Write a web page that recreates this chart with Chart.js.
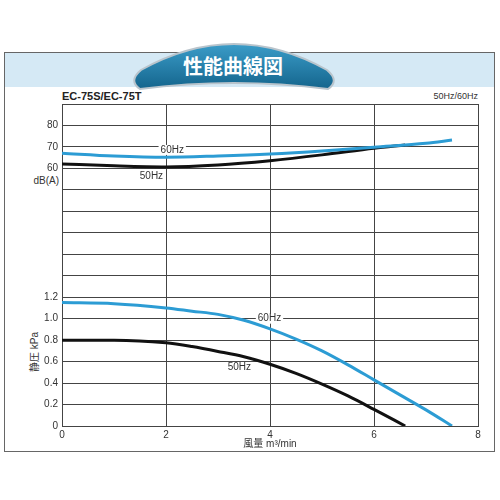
<!DOCTYPE html>
<html>
<head>
<meta charset="utf-8">
<script src="https://cdn.jsdelivr.net/npm/chart.js@4/dist/chart.umd.min.js"></script>
<style>
  body { margin: 0; background: #fff; }
  #wrap { position: relative; width: 500px; height: 500px; font-family: 'Liberation Sans', 'Noto Sans CJK JP', sans-serif; color: #222; }
  #frame { position: absolute; left: 4px; top: 52px; width: 489px; height: 398px; border: 1.5px solid #666; }
  #band { position: absolute; left: 0; top: 0; right: 0; height: 34px; background: #d5e9f5; }
  #banner { position: absolute; left: 0; top: 0; }
  .txt { position: absolute; white-space: nowrap; }
  #model { left: 62px; top: 90px; font-weight: bold; font-size: 11px; }
  #hz { right: 22px; top: 91px; font-size: 9px; color: #333; }
  #dba { right: 441px; top: 175px; font-size: 10px; color: #333; }
  #ytitle { left: 33px; top: 352px; font-size: 10px; color: #333; transform: translate(-50%, -50%) rotate(-90deg); }
  #chart { position: absolute; left: 0; top: 0; }
</style>
</head>
<body>
<div id="wrap">
  <div id="frame"><div id="band"></div></div>
  <svg id="banner" width="500" height="100">
    <defs>
      <linearGradient id="bg" x1="0" y1="0" x2="0" y2="1">
        <stop offset="0" stop-color="#3b9cc8"/>
        <stop offset="1" stop-color="#14658d"/>
      </linearGradient>
    </defs>
    <path d="M140 89 Q128 81 141 70 Q234 18 327 70 Q340 81 328 89 Q234 77 140 89 Z" fill="url(#bg)" stroke="#b9c4cc" stroke-width="2"/>
    <text x="233" y="74" text-anchor="middle" fill="#fff" font-size="20" font-weight="bold" font-family="Noto Sans CJK JP">性能曲線図</text>
  </svg>
  <div class="txt" id="model">EC-75S/EC-75T</div>
  <div class="txt" id="hz">50Hz/60Hz</div>
  <div class="txt" id="dba">dB(A)</div>
  <div class="txt" id="ytitle">静圧 kPa</div>
  <canvas id="chart" width="500" height="500"></canvas>
</div>
<script>
// 風量 m³/min
const flow60 = [0, 1, 2, 2.5, 3, 3.5, 4, 4.5, 5, 5.5, 6, 6.5, 7, 7.5];
const pressure60 = [1.15, 1.14, 1.10, 1.07, 1.04, 0.985, 0.905, 0.81, 0.70, 0.57, 0.43, 0.29, 0.15, 0];
const flow50 = [0, 1, 2, 2.5, 3, 3.5, 4, 4.5, 5, 5.5, 6, 6.6];
const pressure50 = [0.80, 0.80, 0.775, 0.74, 0.695, 0.645, 0.575, 0.49, 0.39, 0.28, 0.155, 0];

// 騒音 dB(A)
const noiseFlow60 = [0, 1, 2, 3, 4, 5, 6, 7, 7.5];
const noise60 = [67.1, 65.8, 65.2, 65.8, 66.7, 68.1, 69.9, 71.7, 73.2];
const noiseFlow50 = [0, 1, 2, 3, 4, 5, 6, 6.6];
const noise50 = [62.1, 61.2, 60.7, 61.6, 63.6, 66.3, 69.4, 70.9];

// 目盛ラベル
const kpaTicks = ['0', '0.2', '0.4', '0.6', '0.8', '1.0', '1.2'];
const dbTicks = ['60', '70', '80'];

const BLUE = '#2c9cd4';
const BLACK = '#111';

const toPts = (xs, ys) => xs.map((x, i) => ({ x: x, y: ys[i] }));

// curve labels, in data units
const curveLabels = [
  { text: '60Hz', x: 2.12, y: 68.6, axis: 'yDb' },
  { text: '50Hz', x: 1.72, y: 56.2, axis: 'yDb' },
  { text: '60Hz', x: 3.99, y: 1.0, axis: 'y' },
  { text: '50Hz', x: 3.41, y: 0.55, axis: 'y' }
];

const labelPlugin = {
  id: 'curveLabels',
  beforeDatasetsDraw(chart) {
    const ctx = chart.ctx;
    ctx.save();
    ctx.font = '10px "Liberation Sans", sans-serif';
    ctx.textAlign = 'center';
    ctx.textBaseline = 'middle';
    curveLabels.forEach(l => {
      const px = chart.scales.x.getPixelForValue(l.x);
      const py = chart.scales[l.axis].getPixelForValue(l.y);
      const w = ctx.measureText(l.text).width;
      ctx.fillStyle = '#fff';
      ctx.fillRect(px - w / 2 - 2, py - 5, w + 4, 10);
      ctx.fillStyle = '#333';
      ctx.fillText(l.text, px, py);
    });
    ctx.restore();
  }
};

const lineStyle = { borderWidth: 3, pointRadius: 0, fill: false, cubicInterpolationMode: 'monotone' };

new Chart(document.getElementById('chart'), {
  type: 'line',
  data: {
    datasets: [
      { ...lineStyle, label: '60Hz', data: toPts(noiseFlow60, noise60), borderColor: BLUE, yAxisID: 'yDb' },
      { ...lineStyle, label: '50Hz', data: toPts(noiseFlow50, noise50), borderColor: BLACK, yAxisID: 'yDb' },
      { ...lineStyle, label: '60Hz', data: toPts(flow60, pressure60), borderColor: BLUE, yAxisID: 'y' },
      { ...lineStyle, label: '50Hz', data: toPts(flow50, pressure50), borderColor: BLACK, yAxisID: 'y' }
    ]
  },
  options: {
    responsive: false,
    animation: false,
    layout: { padding: { left: 0, top: 104, right: 22, bottom: 50 } },
    plugins: { legend: { display: false }, tooltip: { enabled: false } },
    scales: {
      x: {
        type: 'linear', min: 0, max: 8,
        afterFit: s => { s.height = 24; },
        grid: { color: '#444', lineWidth: 1, drawTicks: false },
        border: { color: '#444' },
        ticks: { stepSize: 2, padding: 3, color: '#333', font: { size: 10, family: '"Liberation Sans", sans-serif' } },
        title: { display: true, text: '風量 m³/min', padding: 0, color: '#333', font: { size: 10, family: '"Liberation Sans", "Noto Sans CJK JP", sans-serif' } }
      },
      y: {
        min: 0, max: 3,
        afterFit: s => { s.width = 62; },
        grid: { color: '#444', lineWidth: 1, drawTicks: false },
        border: { color: '#444' },
        ticks: {
          stepSize: 0.2, padding: 4, autoSkip: false, color: '#333',
          font: { size: 10, family: '"Liberation Sans", sans-serif' },
          callback: (v, i) => i < kpaTicks.length ? kpaTicks[i] : (i >= 12 && i <= 14 ? dbTicks[i - 12] : '')
        }
      },
      yDb: { display: false, min: -60, max: 90 }
    }
  },
  plugins: [labelPlugin]
});
</script>
</body>
</html>
